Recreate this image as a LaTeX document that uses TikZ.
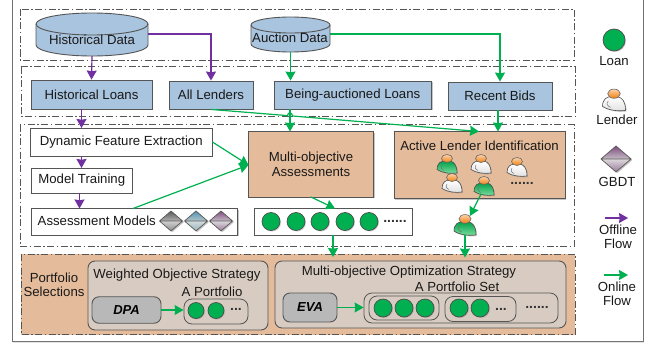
\documentclass[tikz,border=0pt]{standalone}
\usepackage{fontspec}
\setmainfont{Liberation Sans}
\usetikzlibrary{arrows.meta,shadows,calc}
\definecolor{blu}{HTML}{A9C4DE}
\definecolor{tan1}{HTML}{E5BC9B}
\definecolor{grn}{HTML}{00B050}
\definecolor{pur}{HTML}{7030A0}
\definecolor{edge}{HTML}{555555}
\definecolor{pan}{HTML}{D8CCC2}
\definecolor{grndk}{HTML}{00A04A}
\definecolor{grnlt}{HTML}{7FE0A0}
\tikzset{
  lbl/.style={font=\fontsize{13.2}{14.5}\selectfont,text=black!90,align=center,inner sep=0pt},
  shad/.style={drop shadow={shadow xshift=1.2pt,shadow yshift=-1.2pt,opacity=.45,fill=gray}},
  bx/.style={draw=edge,line width=.9pt,minimum width=#1,inner sep=0pt,shad,font=\fontsize{13.2}{14.5}\selectfont,text=black!90,align=center},
  bluebox/.style={bx=#1,fill=blu},
  whitebox/.style={bx=#1,fill=white},
  tanbox/.style={bx=#1,fill=tan1},
  zone/.style={draw=edge,line width=.9pt,dash pattern=on 7pt off 2.5pt on 1.5pt off 2.5pt},
  off/.style={draw=pur,line width=1.2pt,-{Stealth[length=9pt,width=10pt,inset=.7pt]}},
  on/.style={draw=grn,line width=1.2pt,-{Stealth[length=9pt,width=10pt,inset=.7pt]}},
  loan/.style={circle,draw=black!70,line width=.7pt,fill=grn,minimum size=#1,inner sep=0pt,drop shadow={shadow xshift=1pt,shadow yshift=-1pt,opacity=.35,fill=gray}},
  loan/.default=18pt,
  pill/.style={draw=edge,line width=.8pt,rounded corners=#1},
  dots/.style={font=\bfseries\fontsize{14}{14}\selectfont,text=black!80,inner sep=0pt},
  gbd/.style={inner sep=0pt}
}
% name, x, y, width, height, dark top, pale mid, dark bottom
\newcommand{\gbdt}[8]{%
  \colorlet{gbdmid}{#7}%
  \node[gbd,minimum width=#4pt,minimum height=#5pt] (#1) at (#2,#3) {};
  \fill[gray,opacity=.45] (#2+1.5-#4/2,#3+1) -- (#2+1.5,#3+1-#5/2) -- (#2+1.5+#4/2,#3+1) -- (#2+1.5,#3+1+#5/2) -- cycle;
  \shade[top color=#6,bottom color=#7] (#2-#4/2,#3) -- (#2,#3-#5/2) -- (#2+#4/2,#3) -- cycle;
  \shade[top color=gbdmid!60!white,bottom color=#8] (#2-#4/2,#3) -- (#2+#4/2,#3) -- (#2,#3+#5/2) -- cycle;
  \draw[black!65,line width=.7pt] (#2-#4/2,#3) -- (#2,#3-#5/2) -- (#2+#4/2,#3) -- (#2,#3+#5/2) -- cycle (#2-#4/2,#3) -- (#2+#4/2,#3);
}
% name, x, y, body top colour, body bottom colour, scale
\newcommand{\lender}[6]{%
  \begin{scope}[shift={(#2,#3)},scale=#6]
    \fill[gray,opacity=.35] (-9,6.5) .. controls (-9,0) and (-5,-2) .. (-1,-2) -- (4,-2) .. controls (8,-1) and (11,2) .. (11,10) .. controls (5,11) and (-4,10) .. (-9,6.5) -- cycle;
    \path[draw=black!70,line width=.6pt,top color=#4,bottom color=#5] (-10,5.5) .. controls (-10,-1) and (-6,-3) .. (-2,-3) -- (3,-3) .. controls (7,-2) and (10,1) .. (10,9) .. controls (4,10) and (-5,9) .. (-10,5.5) -- cycle;
    \draw[black!55,line width=.5pt] (-5,1) .. controls (-7,3) and (-6,5) .. (-3,6.5);
    \path[draw=black!60,line width=.6pt,top color=orange!35,bottom color=orange!70!brown] (0,-5.5) ellipse [x radius=5.5pt,y radius=4pt];
    \coordinate (#1) at (0,0);
  \end{scope}
}
\begin{document}
\begin{tikzpicture}[x=1pt,y=-1pt]
\useasboundingbox (0,0) rectangle (652,345);
\fill[white] (0,0) rectangle (652,345);
% outer frame
\draw[black!55,line width=1pt,fill=white,drop shadow={shadow xshift=1pt,shadow yshift=-1.5pt,opacity=.2,fill=gray}] (12,-2) rectangle (643,341.5);
% zones
\draw[zone] (20,9) rectangle (574,60);
\draw[zone] (21,66.5) rectangle (575,116.5);
\draw[zone] (20,124.5) rectangle (574,246);
\draw[zone,fill=tan1] (21,254) rectangle (575,334.5);

% cylinders
\path[draw=edge,line width=.9pt,fill=blu] (36,24) -- (36,45) arc [start angle=180,end angle=360,x radius=56pt,y radius=11pt] -- (148,24) arc [start angle=0,end angle=180,x radius=56pt,y radius=11pt] -- cycle;
\draw[edge,line width=.9pt] (36,24) arc [start angle=180,end angle=360,x radius=56pt,y radius=11pt];
\node[lbl,minimum width=112pt,minimum height=43pt] (hist) at (92,34.5) {};
\node[lbl] (histlabel) at (92,40) {Historical Data};
\path[draw=edge,line width=.9pt,fill=blu] (251,25) -- (251,44) arc [start angle=180,end angle=360,x radius=39.5pt,y radius=8pt] -- (330,25) arc [start angle=0,end angle=180,x radius=39.5pt,y radius=8pt] -- cycle;
\draw[edge,line width=.9pt] (251,25) arc [start angle=180,end angle=360,x radius=39.5pt,y radius=8pt];
\node[lbl,minimum width=79pt,minimum height=35pt] (auct) at (290.5,34.5) {};
\node[lbl] (auctlabel) at (290,38) {Auction Data};

% second row
\node[bluebox=121pt,minimum height=29pt] (hl) at (91.5,94.5) {Historical Loans};
\node[bluebox=84pt,minimum height=28pt] (al) at (211,95) {All Lenders};
\node[bluebox=157.5pt,minimum height=28pt] (ba) at (352.75,95) {Being-auctioned Loans};
\node[bluebox=104pt,minimum height=28pt] (rb) at (500,96) {Recent Bids};

% third zone
\node[whitebox=181.5pt,minimum height=28pt] (dfe) at (121.25,142) {Dynamic Feature Extraction};
\node[whitebox=100.5pt,minimum height=25pt] (mt) at (81.75,180.5) {Model Training};
\node[whitebox=206pt,minimum height=26.5pt] (am) at (134.5,221.75) {};
\node[lbl,anchor=west] (amlabel) at (37.5,221) {Assessment Models};
\gbdt{g1}{171}{221}{23}{20}{black!65}{black!30}{black!45}
\gbdt{g2}{196}{221}{23}{20}{blue!30!cyan!40!gray}{blue!20!cyan!15!gray!50}{blue!20!cyan!20!gray!70}
\gbdt{g3}{221}{221}{23}{20}{violet!40!gray}{violet!15!gray!45}{violet!30!gray!80}
\node[tanbox=125pt,minimum height=65.5pt] (moa) at (311,164.25) {Multi-objective\\Assessments};
\node[tanbox=171pt,minimum height=67pt] (ali) at (479.5,165) {};
\node[lbl] (alilabel) at (479.5,145.5) {Active Lender Identification};
\lender{l1}{447}{164}{grndk}{grnlt}{1}
\lender{l2}{481}{164}{white}{black!12}{1}
\lender{l3}{517}{167}{white}{black!12}{1}
\lender{l4}{452}{183}{white}{black!12}{1}
\lender{l5}{484}{186}{grndk}{grnlt}{1}
\node[dots] (aldots) at (522,183) {......};
\node[whitebox=158pt,minimum height=26.5pt] (lr) at (333,221.75) {};
\node[loan] (c1) at (271,221.5) {};
\node[loan] (c2) at (296,221.5) {};
\node[loan] (c3) at (320,221.5) {};
\node[loan] (c4) at (345,221.5) {};
\node[loan] (c5) at (369,221.5) {};
\node[dots] (lrdots) at (395,221) {......};
\lender{best}{465}{225}{grndk}{grnlt}{1.1}

% bottom
\node[lbl] (ps) at (54,285) {Portfolio\\Selections};
\node[draw=edge,line width=.9pt,fill=pan,rounded corners=7pt,minimum width=180pt,minimum height=69pt,inner sep=0pt] (wos) at (178,295.5) {};
\node[lbl] (woslabel) at (177,275) {Weighted Objective Strategy};
\node[draw=edge,line width=.9pt,fill=pan,rounded corners=7pt,minimum width=291pt,minimum height=67pt,inner sep=0pt] (mos) at (420.5,294.5) {};
\node[lbl] (moslabel) at (409,272) {Multi-objective Optimization Strategy};
\node[lbl] (aplabel) at (212,292) {A Portfolio};
\node[lbl] (apslabel) at (457,287) {A Portfolio Set};
\node[draw=edge,line width=.9pt,fill=black!28,rounded corners=7pt,minimum width=69pt,minimum height=26.5pt,inner sep=0pt,font=\bfseries\itshape\fontsize{13}{14}\selectfont] (dpa) at (126.5,310) {DPA};
\node[draw=edge,line width=.9pt,fill=black!28,rounded corners=7pt,minimum width=54pt,minimum height=29pt,inner sep=0pt,font=\bfseries\itshape\fontsize{13}{14}\selectfont] (eva) at (310,307.5) {EVA};
\node[pill=8pt,minimum width=64pt,minimum height=25pt,inner sep=0pt] (pf) at (216,311.5) {};
\node[loan=16pt] (p1) at (196,310.5) {};
\node[loan=16pt] (p2) at (216,310.5) {};
\node[dots] (pdots) at (236,309) {...};
\node[pill=8pt,minimum width=194pt,minimum height=30pt,inner sep=0pt] (pset) at (461,308) {};
\node[pill=8pt,minimum width=70pt,minimum height=24pt,inner sep=0pt] (s1) at (404,308) {};
\node[pill=8pt,minimum width=71pt,minimum height=25pt,inner sep=0pt] (s2) at (480.5,309) {};
\node[loan] (q1) at (383,308) {};
\node[loan] (q2) at (404,308) {};
\node[loan] (q3) at (425,308) {};
\node[loan] (q4) at (459,308) {};
\node[loan] (q5) at (480,308) {};
\node[dots] (qdots) at (501,309) {...};
\node[dots] (setdots) at (537,307) {......};

% legend
\node[loan=22pt] (lgloan) at (614,40) {};
\node[lbl] (lgloanl) at (614,61) {Loan};
\lender{lglend}{614}{100}{white}{black!12}{1.15}
\node[lbl] (lglendl) at (617,120) {Lender};
\gbdt{lggbdt}{616}{159}{30}{26}{violet!40!gray}{violet!15!gray!45}{violet!30!gray!80}
\node[lbl] (lggbdtl) at (617,182) {GBDT};
\coordinate (o1) at (604.5,218); \coordinate (o2) at (628,218);
\draw[off] (o1) -- (o2);
\node[lbl] (lgoff) at (618,237) {Offline\\Flow};
\coordinate (n1) at (604,275); \coordinate (n2) at (628,275);
\draw[on] (n1) -- (n2);
\node[lbl] (lgon) at (617,294) {Online\\Flow};

% connectors
\draw[off] (hist.south) -- (hl.north);
\draw[off] (hist.east |- 0,34) -- (al.north |- 0,34) -- (al.north);
\coordinate (hlb) at (81.5,109); \coordinate (dfet) at (81.5,128);
\draw[off] (hlb) -- (dfet);
\coordinate (dfeb) at (81.5,156); \coordinate (mtt) at (81.5,168);
\draw[off] (dfeb) -- (mtt);
\coordinate (mtb) at (79.5,193); \coordinate (amt) at (79.5,208.5);
\draw[off] (mtb) -- (amt);
\draw[on] (auct.south) -- (auct.south |- ba.north);
\draw[on] (auct.east |- 0,34) -- (rb.north |- 0,34) -- (rb.north);
\coordinate (bab) at (290,109); \coordinate (moat) at (290,131.5);
\draw[on] (bab) -- (moat);
\coordinate (rbb) at (498,110); \coordinate (alit) at (498,131.5);
\draw[on] (rbb) -- (alit);
\coordinate (j1) at (287.5,115.6); \coordinate (j2) at (292.5,116);
\coordinate (alit2) at (479,131.5);
\draw[on] (al.south) -- (j1) .. controls (288,111.5) and (292,112) .. (j2) -- (alit2);
\coordinate (moal) at (248.5,165);
\draw[on] (dfe.east) -- (moal);
\coordinate (amt2) at (133,208.5);
\draw[on] (amt2) -- (moal);
\coordinate (moab) at (311,197); \coordinate (lrt) at (335,208.5);
\draw[on] (moab) -- (lrt);
\coordinate (l5b) at (481,194); \coordinate (bestt) at (470,216);
\draw[on] (l5b) -- (bestt);
\coordinate (lrb) at (333,235); \coordinate (most) at (333,257);
\draw[on] (lrb) -- (most);
\coordinate (bestb) at (465,235); \coordinate (most2) at (465,257.5);
\draw[on] (bestb) -- (most2);
\draw[on] (dpa.east) -- (pf.west |- dpa.east);
\draw[on] (eva.east) -- (pset.west |- eva.east);
\end{tikzpicture}
\end{document}
